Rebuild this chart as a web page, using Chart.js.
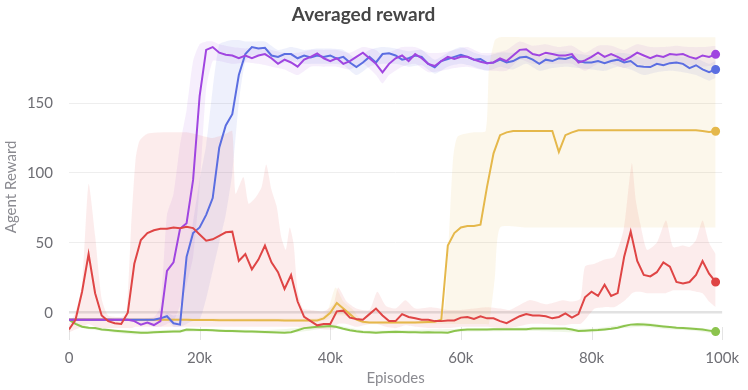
<!DOCTYPE html>
<html>
<head>
<meta charset="utf-8">
<script src="https://cdn.jsdelivr.net/npm/chart.js@4.4.1/dist/chart.umd.min.js"></script>
<style>
  html, body { margin: 0; padding: 0; background: #fff; }
  #wrap { width: 748px; height: 390px; }
</style>
</head>
<body>
<div id="wrap"><canvas id="c"></canvas></div>
<script>
// episodes, in thousands
var episodesK = [0,1,2,3,4,5,6,7,8,9,10,11,12,13,14,15,16,17,18,19,20,21,22,23,24,25,26,27,28,29,
  30,31,32,33,34,35,36,37,38,39,40,41,42,43,44,45,46,47,48,49,50,51,52,53,54,55,56,57,58,59,
  60,61,62,63,64,65,66,67,68,69,70,71,72,73,74,75,76,77,78,79,80,81,82,83,84,85,86,87,88,89,
  90,91,92,93,94,95,96,97,98,99];

var purpleMean = [-5,-5,-5,-5,-5,-5,-5,-5,-5,-5, -6,-8.5,-7,-8.8,-6,30,36,60,64,95,
  155,188,190,186,184.5,184,182,184,182,184, 185,182,178,181,179,176,181,183,185.5,182,
  180,182,178,180,183,186,182,178,172,178, 182,184,180,185,182,178,176.5,180,183,181.5,
  183,183,181,179.5,178.5,179,182,180,184,188, 188.5,185,184,186,185,184,184,185,179,180.5,
  183,186,183,185,183,180.5,183,186,184,182, 184,183,185,184.5,185,183,181.7,184,183,184.8];

var blueMean = [-5,-5,-5,-5,-5,-5,-5,-5,-5,-5, -5,-5,-5,-5,-4,-2.5,-7.5,-8.5,40,57,
  61,70,82,118,134,142,170,185,190,189, 189.5,184,183,185,185,182,184,182.5,184,183,
  184,181.7,183,179,175.7,179,183,179,185,185.5, 184,181,182,184,183,178,175.5,180,181.5,183,
  184.5,183,181,181.5,178.5,179,181,179,180,182.5, 183,181,178,181,180,182,181.5,183,180,179,
  179,180,178.5,180,181,179,180,176.5,176,175.7, 178,177,178.5,179,178,175,177,174,172,174];

var yellowMean = [-4.8,-4.8,-4.8,-4.9,-4.9,-4.9,-4.9,-5,-5,-5, -5,-5,-5,-5,-5,-5.1,-5.1,-5.1,-5.1,-5.2,
  -5.2,-5.2,-5.2,-5.3,-5.3,-5.3,-5.3,-5.3,-5.4,-5.4, -5.4,-5.4,-5.4,-5.5,-5.5,-5.5,-5.5,-5.5,-5.5,-4,
  0,7,3,-1,-5,-6.4,-7,-7,-7,-7, -7,-7,-7,-7,-6.8,-6.6,-6.5,-5,48,57,
  61,62,62,63,90,114,127,129,130,130, 130,130,130,130,130,115,127,129,130.5,130.5,
  130.5,130.5,130.5,130.5,130.5,130.5,130.5,130.5,130.5,130.5, 130.5,130.5,130.5,130.5,130.5,130.5,130.5,130,129.3,129.8];

var redMean = [-12,-5,15,42,14,-2,-6,-7.5,-8,0, 35,52,57,59,60,60,61,60.5,61.5,60.5,
  56,51.5,52.5,55,57.5,58,37,42,31,38, 48,36,29,17,27,8,-3,-6,-9,-8,
  -8,1,1.5,-3.5,-4.5,-5,-1,3,-2,-6, -6,-1,-3,-4,-5,-5,-6,-6,-5.5,-5.5,
  -3.5,-3,-4.5,-2.5,-4,-4,-6,-7.5,-5,-2.5, -1,-2,-2,-2.5,-4,-3,-0.5,-3.5,-1,11,
  15,12,20,12,14,40,58,37,27,26, 29,36,33,22,21,22,27,37,28,22];

var greenMean = [-5,-8,-10,-10.7,-11,-12,-12.4,-12.8,-13.2,-13.6, -14,-14.3,-14.3,-14,-13.8,-13.6,-13.5,-13.4,-12,-12.2,
  -12.4,-12.4,-12.6,-12.8,-13,-13,-13.2,-13.4,-13.5,-13.6, -13.8,-14,-14.2,-14.3,-14,-12.5,-11,-10.5,-10,-9.8,
  -9.5,-10.2,-11.5,-12.5,-13.3,-13.8,-14,-14.3,-14,-13.8, -13.6,-13.8,-14,-14,-14.2,-14,-14.1,-14.2,-14.3,-13,
  -12.4,-12,-12,-12,-12,-11.8,-11.8,-11.8,-11.8,-11.8, -11.8,-11.3,-11.3,-11.3,-11.3,-11.3,-11.3,-12,-13,-12.8,
  -12.6,-12.4,-12,-11.5,-10.8,-9.5,-8.5,-8.2,-8.4,-8.8, -9.3,-9.8,-10.2,-10.7,-11,-11.3,-11.6,-12,-12.8,-13.5];

// min / max envelopes (episodes in thousands)
var purpleBandK = [0,10,13,14,15,16,17,18,19,20,21,22,23,25,27,29,31,33,35,37,39,41,43,45,47,48,49,51,53,55,57,59,61,63,65,67,69,71,73,75,77,79,81,83,85,87,89,91,93,95,97,99];
var purpleLow  = [-6,-6,-10,-10,-8,-6,5,20,40,90,160,180,180,178,179,178,176,174,170,176,176,176,174,178,170,164,170,176,178,172,173,175,176,174,173,173,181,178,178,178,178,173,178,178,175,178,176,178,178,177,176,177];
var purpleHigh = [-4,-4,-3,5,70,85,120,145,180,192,194,194,192,190,189,190,188,186,186,188,188,188,186,190,188,184,186,190,190,186,186,188,190,186,186,188,194,191,192,190,191,186,191,191,188,192,190,190,191,190,190,191];

var blueBandK = [0,14,15,16,17,18,19,20,21,22,23,24,25,26,27,28,30,32,34,36,38,40,42,44,46,48,50,52,54,56,58,60,62,64,66,68,70,72,74,76,78,80,82,84,86,88,90,92,94,96,98,99];
var blueLow  = [-6,-6,-5,-10,-10,-8,-6,-5,10,30,50,70,100,150,180,184,184,178,180,178,178,178,177,170,176,178,178,176,177,171,176,178,176,173,176,174,178,173,175,176,175,174,173,176,174,170,172,173,172,170,166,168];
var blueHigh = [-4,-4,0,-2,0,40,65,95,120,160,192,194,195,195,194,194,194,188,190,188,189,189,188,182,188,190,189,187,188,181,186,190,186,184,186,186,188,183,186,187,185,184,183,186,185,182,183,184,183,182,178,180];

var yellowBandK = [0,10,20,30,38,39.5,40.8,42,43.5,45,50,55,57.2,58,58.8,59.5,62,63.8,64.3,65.2,66,70,75,80,90,99];
var yellowLow  = [-6,-6,-6,-6.5,-6.5,-5,-2,-2,-4,-8,-8,-8,-8,-8,-8,-8,-8,-8,-8,25,61,61,61,61,61,61];
var yellowHigh = [-4,-4,-4,-4,-4,0,18,8,2,-6,-6,-6,-5,40,110,126,129,130,175,195,197,197,197,197,197,197];

var redBandK = [0,1,2,3,4,5,6,8,8.8,9.5,10.2,10.8,12,15,18,20,22,24,25,25.5,26.7,27.5,28.5,29.5,30.2,31,31.8,32.5,33.2,33.8,
  34.4,35,35.8,37,39,40.5,41.2,42.5,44,46,47.2,48.5,50,51.5,53,55.5,58,60,62,64,66,67.5,70.5,73,75.6,77,78.3,79,80.5,82,
  83.5,84.9,85.8,86.2,86.8,87.5,88.5,90,91.4,92.5,94,95,96,97,98,99];
var redLow  = [-14,-12,-10,-8,-10,-11,-11,-11,-11,-11,-10,-10,-10,-10,-10,-10,-10,-10,-10,-10,-10,-10,-10,-10,-10,-10,-10,-10,-10,-10,
  -10,-10,-11,-11,-12,-12,-8,-8,-10,-8,-8,-10,-11,-9,-10,-11,-11,-10,-10,-10,-11,-11,-8,-8,-9,-8,-8,-5,3,4,
  4,8,12,14,15,15,14,14,14,16,16,16,15,14,8,4];
var redHigh = [-8,0,20,92,55,10,-2,-3,0,60,110,123,128,129,129,127,125,128,130,85,97,78,82,90,106,88,76,54,45,61,
  49,16,3,2,1,6,18,8,3,2,15,5,3,9,3,4,2,2,3,4,3,2,9,6,9,8,10,33,35,38,
  40,59,95,107,80,63,45,50,66,47,48,47,52,66,50,42];

var greenBandK = [0,2,5,10,20,30,35,40,45,50,60,70,80,85,88,92,96,99];
var greenLow  = [-6,-11,-13,-15.5,-13.5,-15,-14,-11,-15,-15,-13.5,-13,-14,-11,-10,-12,-13,-15];
var greenHigh = [-4,-9,-11,-13,-11.5,-12.5,-11,-8.5,-12.5,-12.5,-11.5,-10.5,-11.5,-8.5,-7,-9.5,-10.5,-12];

var yTicks = [0, 50, 100, 150];
var xTicks = [0, 20000, 40000, 60000, 80000, 100000];

var FONT = "Lato, 'Source Sans Pro', 'Open Sans', sans-serif";

function pts(ks, vals) {
  return ks.map(function (k, i) { return { x: k * 1000, y: vals[i] }; });
}

function lineSet(label, vals, color) {
  return {
    label: label,
    data: pts(episodesK, vals),
    borderColor: color,
    backgroundColor: color,
    borderWidth: 2,
    pointRadius: function (ctx) { return ctx.dataIndex === vals.length - 1 ? 3.5 : 0; },
    pointHoverRadius: 0,
    tension: 0,
    fill: false,
    order: 0
  };
}

var datasets = [
  lineSet("red", redMean, "#df4545"),
  lineSet("purple", purpleMean, "#a045e0"),
  lineSet("blue", blueMean, "#5b6ee1"),
  lineSet("yellow", yellowMean, "#e5b84b"),
  lineSet("green", greenMean, "#8cc44e")
];

function addBand(ks, lo, hi, fillColor) {
  var loIdx = datasets.length;
  datasets.push({
    data: pts(ks, lo), borderWidth: 0, pointRadius: 0, fill: false, order: 1, tension: 0.2
  });
  datasets.push({
    data: pts(ks, hi), borderWidth: 0, pointRadius: 0, fill: { target: loIdx },
    backgroundColor: fillColor, order: 1, tension: 0.2
  });
}

addBand(yellowBandK, yellowLow, yellowHigh, "rgba(229,184,75,0.11)");
addBand(redBandK, redLow, redHigh, "rgba(223,69,69,0.10)");
addBand(blueBandK, blueLow, blueHigh, "rgba(91,110,225,0.10)");
addBand(purpleBandK, purpleLow, purpleHigh, "rgba(160,69,224,0.09)");
addBand(greenBandK, greenLow, greenHigh, "rgba(140,196,78,0.14)");

// short tick marks at the x ticks, rising from the bottom of the plot
var shortTicks = {
  id: "shortTicks",
  beforeDatasetsDraw: function (chart) {
    var x = chart.scales.x, area = chart.chartArea, c = chart.ctx;
    c.save();
    c.strokeStyle = "#e4e4e4";
    c.lineWidth = 1;
    xTicks.forEach(function (v) {
      var px = Math.round(x.getPixelForValue(v)) + 0.5;
      c.beginPath();
      c.moveTo(px, area.bottom - 13);
      c.lineTo(px, area.bottom);
      c.stroke();
    });
    c.restore();
  }
};

new Chart(document.getElementById("c"), {
  type: "line",
  data: { datasets: datasets },
  plugins: [shortTicks],
  options: {
    responsive: true,
    maintainAspectRatio: false,
    animation: false,
    events: [],
    layout: { padding: { left: 0, right: 21, top: 0, bottom: 0 } },
    plugins: {
      legend: { display: false },
      tooltip: { enabled: false },
      title: {
        display: true,
        text: "Averaged reward",
        color: "#454545",
        font: { family: FONT, size: 19, weight: "bold" },
        padding: { top: 3, bottom: 8 }
      }
    },
    scales: {
      x: {
        type: "linear",
        min: 0,
        max: 100000,
        afterBuildTicks: function (s) { s.ticks = xTicks.map(function (v) { return { value: v }; }); },
        afterFit: function (s) { s.height = 50; },
        grid: { display: false, drawTicks: false },
        border: { display: false },
        ticks: {
          color: "#6e6e74",
          font: { family: FONT, size: 15 },
          padding: 9,
          maxRotation: 0,
          callback: function (v) { return v === 0 ? "0" : v / 1000 + "k"; }
        },
        title: {
          display: true,
          text: "Episodes",
          color: "#8a8a90",
          font: { family: FONT, size: 15 },
          padding: { top: 1, bottom: 3 }
        }
      },
      y: {
        min: -19.5,
        max: 199.5,
        afterBuildTicks: function (s) { s.ticks = yTicks.map(function (v) { return { value: v }; }); },
        afterFit: function (s) { s.width = 69; },
        grid: {
          drawTicks: false,
          color: function (ctx) { return ctx.tick && ctx.tick.value === 0 ? "#e2e2e2" : "#eeeeee"; },
          lineWidth: function (ctx) { return ctx.tick && ctx.tick.value === 0 ? 2.5 : 1; }
        },
        border: { display: false },
        ticks: {
          color: "#6e6e74",
          font: { family: FONT, size: 15 },
          padding: 16
        },
        title: {
          display: true,
          text: "Agent Reward",
          color: "#8a8a90",
          font: { family: FONT, size: 15 },
          padding: { top: 2, bottom: 0 }
        }
      }
    }
  }
});
</script>
</body>
</html>
